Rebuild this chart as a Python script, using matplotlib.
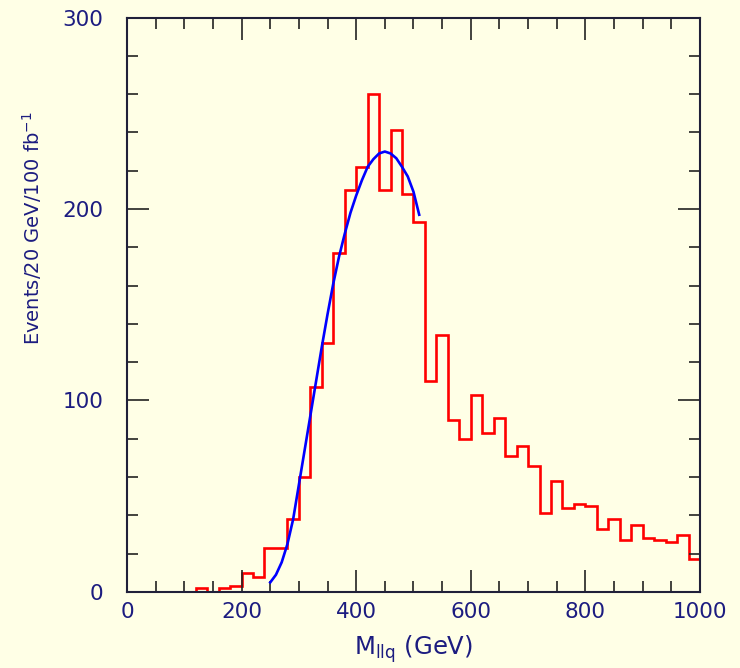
import numpy as np
import matplotlib.pyplot as plt
from matplotlib.ticker import MultipleLocator

plt.rcParams['font.family'] = ['DejaVu Sans']
plt.rcParams['mathtext.fontset'] = 'dejavusans'

# M_llq histogram, 20 GeV bins from 0 to 1000 GeV
bin_edges = np.arange(0, 1020, 20)
events = [0, 0, 0, 0, 0, 0, 2, 0, 2, 3,
          10, 8, 23, 23, 38, 60, 107, 130, 177, 210,
          222, 260, 210, 241, 208, 193, 110, 134, 90, 80,
          103, 83, 91, 71, 76, 66, 41, 58, 44, 46,
          45, 33, 38, 27, 35, 28, 27, 26, 30, 17]

# fitted peak curve
fit_m = [250, 260, 270, 280, 290, 300, 310, 320, 330, 340, 350, 360, 370, 380,
         390, 400, 410, 420, 430, 440, 450, 460, 470, 480, 490, 500, 510]
fit_y = [5, 9, 15.5, 25, 38, 56, 74, 92, 110, 128, 145, 161, 175, 187,
         198, 207, 215, 222, 226, 229, 230, 229, 226.5, 222, 217, 209, 197]

bg = '#ffffe6'
navy = '#1c1c80'

fig = plt.figure(figsize=(7.4, 6.68), dpi=100, facecolor=bg)
ax = fig.add_axes([0.1716, 0.1138, 0.7743, 0.86])
ax.set_facecolor(bg)

ax.stairs(events, bin_edges, color='#ff0000', linewidth=1.9, baseline=0)
ax.plot(fit_m, fit_y, color='#0000ff', linewidth=1.9)

ax.set_xlim(0, 1000)
ax.set_ylim(0, 300)
ax.xaxis.set_major_locator(MultipleLocator(200))
ax.xaxis.set_minor_locator(MultipleLocator(50))
ax.yaxis.set_major_locator(MultipleLocator(100))
ax.yaxis.set_minor_locator(MultipleLocator(20))

ax.tick_params(which='both', direction='in', top=True, right=True,
               color='#222222', width=1.2)
ax.tick_params(which='major', length=16, labelsize=15.5, labelcolor=navy)
ax.tick_params(which='minor', length=8)
ax.tick_params(axis='x', which='major', pad=7)
ax.tick_params(axis='y', which='major', pad=17)

for s in ax.spines.values():
    s.set_color('#20203a')
    s.set_linewidth(1.5)

ax.set_xlabel(r'M$_{\rm llq}$ (GeV)', fontsize=17.5, color=navy)
ax.set_ylabel(r'Events/20 GeV/100 fb$^{-1}$', fontsize=14, color=navy)
ax.yaxis.set_label_coords(-0.145, 0.634)
ax.xaxis.set_label_coords(0.5, -0.072)

fig.savefig('out.png', dpi=100, facecolor=bg)
